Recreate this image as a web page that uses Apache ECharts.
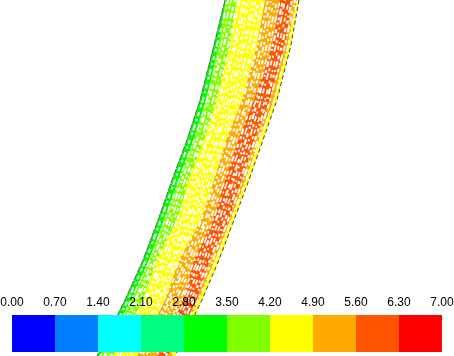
<!DOCTYPE html>
<html><head><meta charset="utf-8">
<style>html,body{margin:0;padding:0;background:#fff}#c{width:454px;height:356px}</style>
<script src="https://cdn.jsdelivr.net/npm/echarts@6/dist/echarts.min.js"></script>
</head><body><div id="c"></div>
<script>
// Contour band: x of each boundary at each image row
const rows      = [0,45,100,140,180,220,260,300,356];
const edgeLeft  = [225,214,200,187,172,158,143,125,97];
const greenEnd  = [226,219,206,194,179,164,149,132,100];
const limeEnd   = [237,230,217,204,189,177,157,143,113];
const yellowEnd = [265,257,242,226,214,201,179,165,137];
const orangeEnd = [280,272,254,238,225,213,194,183,157];
const redEnd    = [292,285,270,255,242,229,210,197,168];
const orange2End= [297,288,274,259,246,231,215,199,172];
const edgeRight = [299,291,277,263,249,234,219,202,175];
const bandColors= ['#00ff00','#80ff00','#ffff00','#ffaa00','#ff5500','#ffaa00','#ffff00'];
// Pale flecks in the contour fill, following the flow
const flecks = [
 [228,217,203,190,175,161,146,128,100],
 [231,221,207,194,179,165,150,131,104],
 [235,224,209,197,182,168,153,135,106],
 [238,228,213,201,185,171,156,137,110],
 [240,230,216,203,188,174,158,140,112],
 [244,234,219,207,192,177,162,144,115],
 [247,236,222,209,195,181,165,146,118],
 [249,240,225,213,198,183,168,149,120],
 [253,243,228,216,201,186,172,152,124],
 [256,245,231,218,204,189,174,155,127],
 [259,249,234,222,207,192,177,159,130],
 [262,253,237,225,210,195,180,161,133],
 [264,255,240,227,213,198,183,164,136],
 [268,258,243,231,216,201,186,168,139],
 [271,261,247,234,219,205,189,170,142],
 [274,264,249,237,222,207,192,173,146],
 [277,267,252,240,225,210,195,176,148],
 [280,270,256,243,228,213,198,180,151],
 [283,273,258,246,232,216,201,182,154],
 [285,276,261,249,234,219,204,185,157],
 [289,279,265,252,237,222,207,188,160],
 [292,282,267,255,240,225,210,191,163],
 [295,285,270,258,243,228,213,194,166],
 [297,288,274,260,246,231,216,198,171]
];
const fleckDash = [
 [4,3,2,4,6,2,3,5],[2,4,5,2,3,3,7,3],[6,3,3,2,2,5,4,2],[3,2,7,4,2,3,5,3],
 [5,4,2,2,4,3,3,6],[3,5,4,2,6,3,2,3],[7,2,2,4,3,3,5,4],[2,3,4,4,3,2,6,3]
];
const fleckWidth = [2,1.6,2.2,1.8,1.6,2.2,1.9,1.7];
// Colour scale
const scaleEdges  = [0,0.7,1.4,2.1,2.8,3.5,4.2,4.9,5.6,6.3,7];
const scaleColors = ['#0000ff','#0080ff','#00ffff','#00ff80','#00ff00','#80ff00','#ffff00','#ffaa00','#ff5500','#ff0000'];
const scaleLabels = ['0.00','0.70','1.40','2.10','2.80','3.50','4.20','4.90','5.60','6.30','7.00'];

const boundaries = [edgeLeft,greenEnd,limeEnd,yellowEnd,orangeEnd,redEnd,orange2End,edgeRight];
const xy = xs => xs.map((x,i)=>[x,rows[i]]);

const series = [{
  type:'custom', xAxisIndex:0, yAxisIndex:0, silent:true, z:1,
  data: bandColors.map((c,i)=>[i]),
  encode:{x:-1,y:-1},
  renderItem(p,api){
    const i = api.value(0);
    const pts = xy(boundaries[i]).concat(xy(boundaries[i+1]).reverse()).map(d=>api.coord(d));
    return {type:'polygon',shape:{points:pts},style:{fill:bandColors[i]}};
  }
}];
flecks.forEach((f,i)=>series.push({
  type:'line', xAxisIndex:0, yAxisIndex:0, silent:true, z:2, symbol:'none', data:xy(f),
  lineStyle:{color:'#fff',width:fleckWidth[i%fleckWidth.length],type:fleckDash[i%fleckDash.length],dashOffset:i*7}
}));
series.push({type:'line',xAxisIndex:0,yAxisIndex:0,silent:true,z:3,symbol:'none',data:xy(edgeLeft),
  lineStyle:{color:'#666',width:1,type:[7,1]}});
series.push({type:'line',xAxisIndex:0,yAxisIndex:0,silent:true,z:3,symbol:'none',data:xy(edgeRight),
  lineStyle:{color:'#444',width:1,type:[4,3]}});
series.push({
  type:'custom', xAxisIndex:1, yAxisIndex:1, silent:true, z:5,
  data: scaleColors.map((c,i)=>[scaleEdges[i],scaleEdges[i+1],i]),
  encode:{x:[0,1],y:-1},
  renderItem(p,api){
    const a = api.coord([api.value(0),0]), b = api.coord([api.value(1),1]);
    return {type:'rect',shape:{x:a[0],y:b[1],width:b[0]-a[0],height:a[1]-b[1]},style:{fill:scaleColors[api.value(2)]}};
  }
});

const chart = echarts.init(document.getElementById('c'),null,{renderer:'canvas'});
chart.setOption({
  animation:false, backgroundColor:'#fff',
  grid:[{left:0,top:0,width:454,height:356,outerBoundsMode:'none'},
        {left:12,top:315,width:430,height:37,outerBoundsMode:'none'}],
  xAxis:[
    {type:'value',gridIndex:0,min:0,max:454,show:false},
    {type:'value',gridIndex:1,min:0,max:7,interval:0.7,position:'top',z:10,
     axisLine:{show:false},axisTick:{show:false},splitLine:{show:false},
     axisLabel:{show:true,margin:6,color:'#000',fontFamily:'Liberation Sans',fontSize:12,hideOverlap:false,
       showMinLabel:true,showMaxLabel:true,
       formatter:v=>scaleLabels[Math.round(v/0.7)]}}
  ],
  yAxis:[
    {type:'value',gridIndex:0,min:0,max:356,inverse:true,show:false},
    {type:'value',gridIndex:1,min:0,max:1,show:false}
  ],
  series
});
</script></body></html>
